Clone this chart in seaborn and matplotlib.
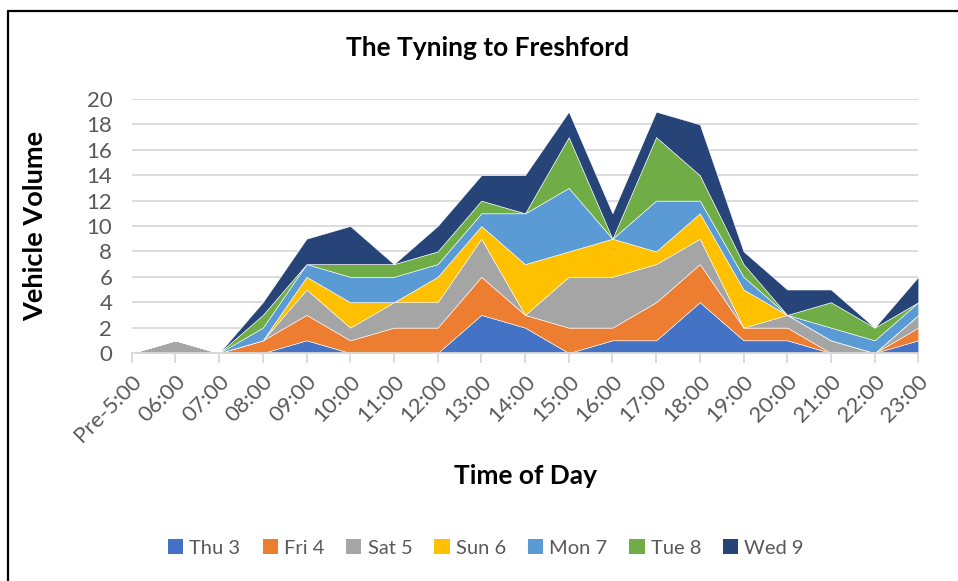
import matplotlib
matplotlib.use("Agg")
import matplotlib.pyplot as plt
import seaborn as sns
import numpy as np
from matplotlib.patches import Patch
from matplotlib.lines import Line2D

categories = ["Pre-5:00", "06:00", "07:00", "08:00", "09:00", "10:00", "11:00",
              "12:00", "13:00", "14:00", "15:00", "16:00", "17:00", "18:00",
              "19:00", "20:00", "21:00", "22:00", "23:00"]
thu3 = [0, 0, 0, 0, 1, 0, 0, 0, 3, 2, 0, 1, 1, 4, 1, 1, 0, 0, 1]
fri4 = [0, 0, 0, 1, 2, 1, 2, 2, 3, 1, 2, 1, 3, 3, 1, 1, 0, 0, 1]
sat5 = [0, 1, 0, 0, 2, 1, 2, 2, 3, 0, 4, 4, 3, 2, 0, 1, 1, 0, 1]
sun6 = [0, 0, 0, 0, 1, 2, 0, 2, 1, 4, 2, 3, 1, 2, 3, 0, 0, 0, 0]
mon7 = [0, 0, 0, 1, 1, 2, 2, 1, 1, 4, 5, 0, 4, 1, 1, 0, 1, 1, 1]
tue8 = [0, 0, 0, 1, 0, 1, 1, 1, 1, 0, 4, 0, 5, 2, 1, 0, 2, 1, 0]
wed9 = [0, 0, 0, 1, 2, 3, 0, 2, 2, 3, 2, 2, 2, 4, 1, 2, 1, 0, 2]
series_names = ["Thu 3", "Fri 4", "Sat 5", "Sun 6", "Mon 7", "Tue 8", "Wed 9"]
colors = ["#4472C4", "#ED7D31", "#A5A5A5", "#FFC000", "#5B9BD5", "#70AD47", "#264478"]
title = "The Tyning to Freshford"
xlabel = "Time of Day"
ylabel = "Vehicle Volume"

sns.set_theme(style="white")
plt.rcParams['font.family'] = ['Lato', 'DejaVu Sans']

fig = plt.figure(figsize=(9.58, 5.81), dpi=100)
ax = fig.add_axes([131.7/958, 1-353/581, (918.3-131.7)/958, (353-99)/581])

x = np.arange(len(categories))
ax.stackplot(x, thu3, fri4, sat5, sun6, mon7, tue8, wed9,
             colors=colors, edgecolor="white", linewidth=0.4)

ax.set_xlim(0, len(categories)-1)
ax.set_ylim(0, 20)
ax.set_yticks(range(0, 21, 2))
ax.yaxis.grid(True, color="#D9D9D9", linewidth=1.3)
ax.set_axisbelow(True)
for s in ["top", "right", "left"]:
    ax.spines[s].set_visible(False)
ax.spines["bottom"].set_color("#D9D9D9")
ax.spines["bottom"].set_linewidth(1.3)

ax.set_xticks(x)
ax.set_xticklabels(categories, rotation=45, ha="right", rotation_mode="anchor")
ax.tick_params(axis="x", length=7, width=1.3, color="#D9D9D9", pad=6,
               labelsize=16, labelcolor="#595959", bottom=True)
ax.tick_params(axis="y", length=0, pad=14, labelsize=16, labelcolor="#595959")

fig.text(488/958, 1-48/581, title, ha="center", va="center",
         fontsize=19, fontweight="bold", color="black")
fig.text(525/958, 1-476/581, xlabel, ha="center", va="center",
         fontsize=19, fontweight="bold", color="black")
fig.text(35/958, 1-226/581, ylabel, ha="center", va="center", rotation=90,
         fontsize=19.5, fontweight="bold", color="black")

handles = [Patch(facecolor=c, edgecolor="none") for c in colors]
fig.legend(handles, series_names, loc="center", bbox_to_anchor=(486/958, 1-548/581),
           ncol=7, frameon=False, fontsize=14.5, handlelength=0.75, handleheight=0.75,
           handletextpad=0.3, columnspacing=1.1, labelcolor="#595959")

# chart border (top and left visible)
fig.add_artist(Line2D([8/958, 8/958], [0, 1-11/581], transform=fig.transFigure,
                      color="black", linewidth=1.6))
fig.add_artist(Line2D([8/958, 1], [1-11/581, 1-11/581], transform=fig.transFigure,
                      color="black", linewidth=1.6))

fig.savefig("out.png", dpi=100)
